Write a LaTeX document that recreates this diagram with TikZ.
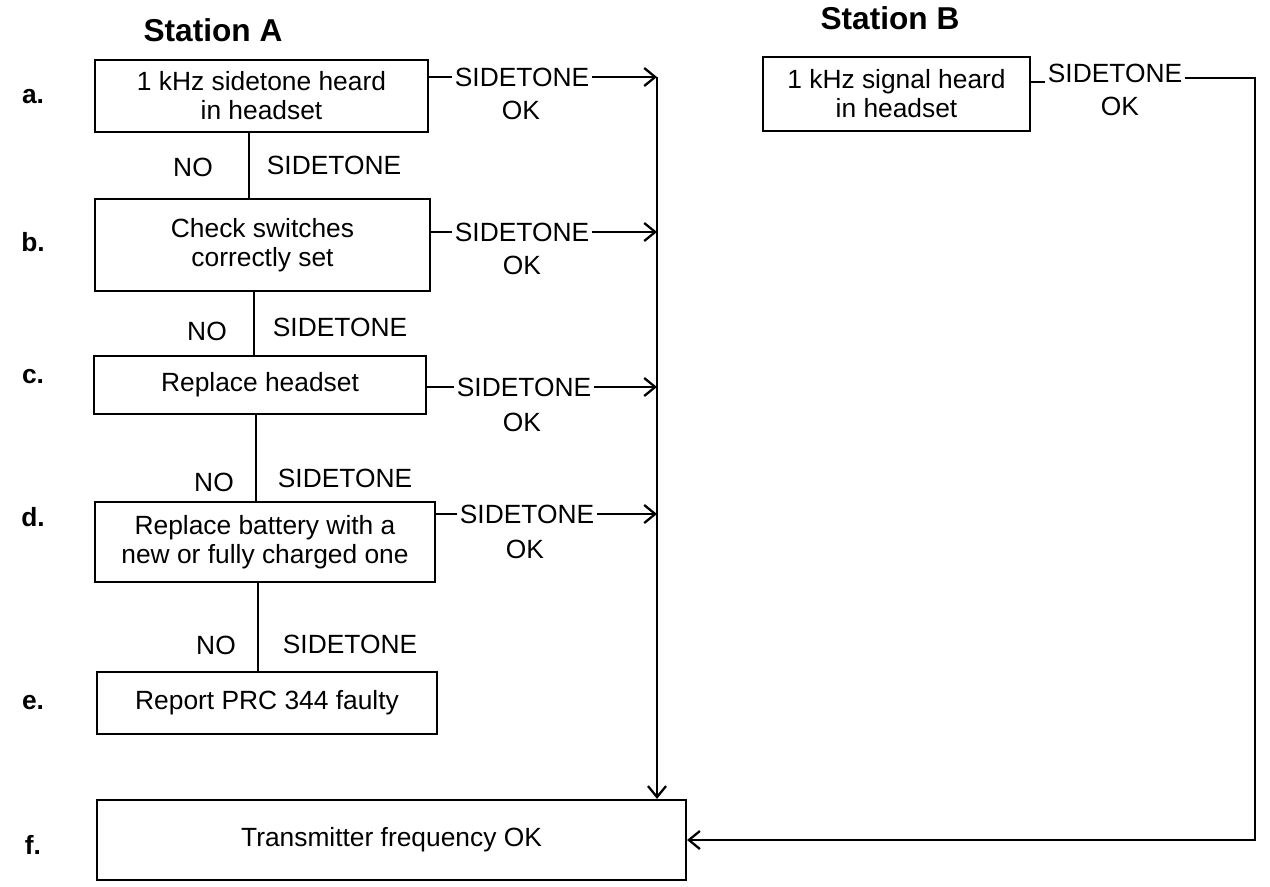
\documentclass[tikz,border=0pt]{standalone}
\usepackage{fontspec}
\setmainfont{Liberation Sans}
\usetikzlibrary{arrows.meta, positioning}

\begin{document}
\begin{tikzpicture}[
  x=0.02cm, y=-0.02cm,
  line width=1.3pt,
  box/.style={draw, inner sep=2pt, align=center, font=\fontsize{15}{16.5}\selectfont},
  lbl/.style={inner sep=1pt, font=\fontsize{15}{17.5}\selectfont},
  rowlbl/.style={inner sep=1pt, font=\fontsize{15}{18}\selectfont\bfseries},
  title/.style={inner sep=1pt, font=\fontsize{18}{22}\selectfont\bfseries},
  arrow/.style={-{Straight Barb[length=2.2mm,width=3.6mm]}},
]
\useasboundingbox (0,0) rectangle (1270,886);

%% Titles
\node[title] (titA) at (213,30) {Station A};
\node[title] (titB) at (890,18) {Station B};

%% Row letters
\node[rowlbl] (ra) at (33,97) {a.};
\node[rowlbl] (rb) at (33,242) {b.};
\node[rowlbl] (rc) at (33,377) {c.};
\node[rowlbl] (rd) at (33,517) {d.};
\node[rowlbl] (re) at (33,703) {e.};
\node[rowlbl] (rf) at (33,845) {f.};

%% Station A boxes
\node[box, minimum width=6.66cm, minimum height=1.44cm] (boxa) at (261.5,96) {1 kHz sidetone heard\\in headset};
\node[box, minimum width=6.7cm, minimum height=1.84cm] (boxb) at (262.5,245) {Check switches\\correctly set};
\node[box, minimum width=6.64cm, minimum height=1.16cm] (boxc) at (260,385) {Replace headset};
\node[box, minimum width=6.8cm, minimum height=1.6cm] (boxd) at (265,542) {Replace battery with a\\new or fully charged one};
\node[box, minimum width=6.8cm, minimum height=1.24cm] (boxe) at (267,703) {Report PRC 344 faulty};
\node[box, minimum width=11.78cm, minimum height=1.6cm] (boxf) at (391.5,840) {Transmitter frequency OK};

%% Station B box
\node[box, minimum width=5.34cm, minimum height=1.48cm] (boxB) at (896.5,94) {1 kHz signal heard\\in headset};

%% Down the column: NO SIDETONE
\coordinate (ca) at (249,0);
\coordinate (cb) at (254,0);
\coordinate (cc) at (256,0);
\coordinate (cd) at (258,0);
\draw (boxa.south -| ca) -- (boxb.north -| ca);
\draw (boxb.south -| cb) -- (boxc.north -| cb);
\draw (boxc.south -| cc) -- (boxd.north -| cc);
\draw (boxd.south -| cd) -- (boxe.north -| cd);
\node[lbl] (na) at (193,167) {NO};
\node[lbl] (nsa) at (334,165) {SIDETONE};
\node[lbl] (nb) at (207,331) {NO};
\node[lbl] (nsb) at (340,327) {SIDETONE};
\node[lbl] (nc) at (214,482) {NO};
\node[lbl] (nsc) at (345,478) {SIDETONE};
\node[lbl] (nd) at (216,645) {NO};
\node[lbl] (nsd) at (350,644) {SIDETONE};

%% Out to the right: SIDETONE OK
\coordinate (trunk) at (657,77);
\node[lbl] (sa) at (522,77) {SIDETONE};
\node[lbl] (oka) at (521,110) {OK};
\node[lbl] (sb) at (522,232) {SIDETONE};
\node[lbl] (okb) at (522,265) {OK};
\node[lbl] (sc) at (524,387) {SIDETONE};
\node[lbl] (okc) at (522,422) {OK};
\node[lbl] (sd) at (527,514) {SIDETONE};
\node[lbl] (okd) at (525,549) {OK};

\draw (boxa.east |- sa) -- (sa.west);
\draw (boxb.east |- sb) -- (sb.west);
\draw (boxc.east |- sc) -- (sc.west);
\draw (boxd.east |- sd) -- (sd.west);
\draw[arrow] (sa.east) -- (sa -| trunk);
\draw[arrow] (sb.east) -- (sb -| trunk);
\draw[arrow] (sc.east) -- (sc -| trunk);
\draw[arrow] (sd.east) -- (sd -| trunk);
\draw[arrow] (trunk) -- (trunk |- boxf.north);

%% Station B path
\coordinate (turnB) at (1255,78);
\node[lbl] (sB) at (1115,73) {SIDETONE};
\node[lbl] (okB) at (1120,106) {OK};
\draw (boxB.east |- sB.base) -- (sB.west |- sB.base);
\draw[arrow] (sB.east |- turnB) -- (turnB) |- (boxf.east);

\end{tikzpicture}
\end{document}
